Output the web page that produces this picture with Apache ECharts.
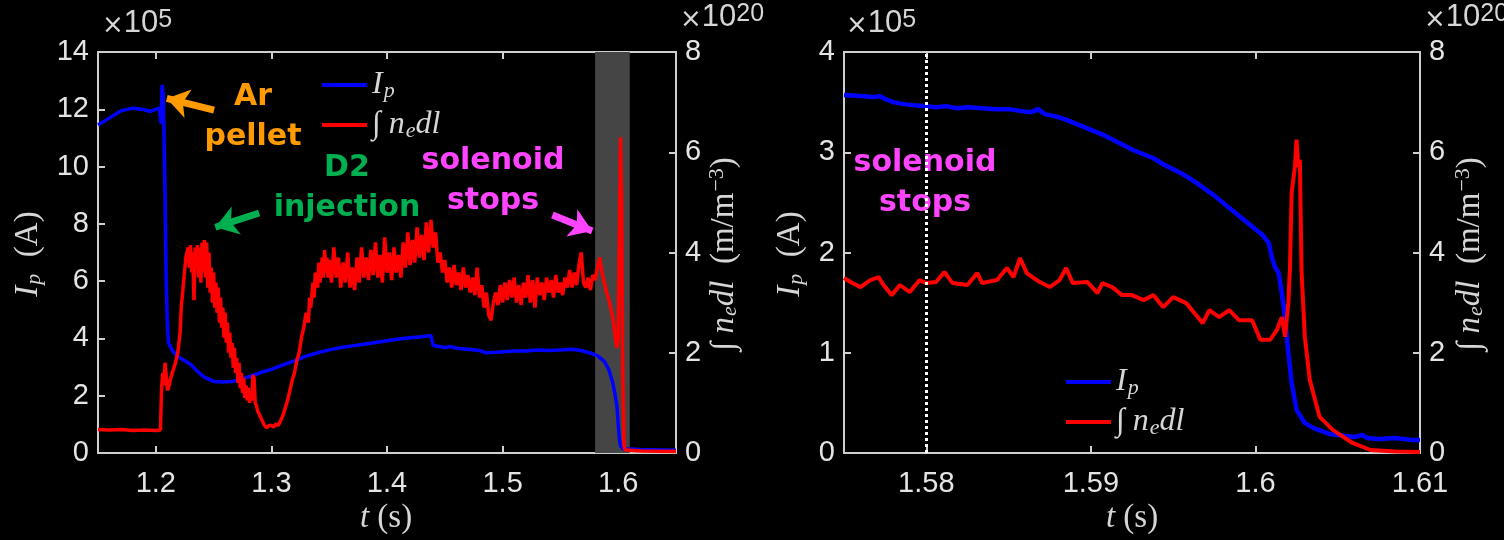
<!DOCTYPE html>
<html>
<head>
<meta charset="utf-8">
<script src="https://cdn.jsdelivr.net/npm/echarts@6/dist/echarts.min.js"></script>
<style>
  html, body { margin: 0; padding: 0; background: #000; }
  #chart { width: 1504px; height: 540px; }
</style>
</head>
<body>
<div id="chart"></div>
<script>
// tick positions
const tTicksLeft = [1.2, 1.3, 1.4, 1.5, 1.6]
const tTicksRight = [1.58, 1.59, 1.6, 1.61]

// shaded window (solenoid stops) and dotted marker, in seconds
const shadeWindow = [1.58, 1.61]
const solenoidStop = 1.58

// left panel: plasma current Ip (x1e5 A)
const ipLeft = [
    [1.150, 11.45], [1.160, 11.7], [1.170, 11.95], [1.180, 12.04], [1.188, 12.0], [1.195, 11.93],
    [1.200, 12.0], [1.203, 12.05], [1.2045, 11.5], [1.2055, 12.85], [1.2065, 12.5], [1.208, 9.0],
    [1.209, 6.0], [1.210, 4.5], [1.211, 3.85], [1.214, 3.6], [1.218, 3.4], [1.224, 3.25],
    [1.230, 3.1], [1.236, 2.85], [1.242, 2.65], [1.250, 2.5], [1.258, 2.48], [1.266, 2.5],
    [1.274, 2.58], [1.282, 2.68], [1.290, 2.8], [1.300, 2.92], [1.310, 3.08], [1.320, 3.22],
    [1.330, 3.38], [1.340, 3.5], [1.350, 3.6], [1.360, 3.68], [1.370, 3.74], [1.380, 3.8],
    [1.390, 3.86], [1.400, 3.92], [1.410, 3.98], [1.420, 4.02], [1.430, 4.06], [1.438, 4.1],
    [1.440, 3.75], [1.450, 3.68], [1.455, 3.72], [1.460, 3.66], [1.470, 3.62], [1.480, 3.58],
    [1.485, 3.5], [1.495, 3.52], [1.510, 3.56], [1.520, 3.56], [1.530, 3.6], [1.540, 3.58],
    [1.550, 3.6], [1.560, 3.62], [1.568, 3.58], [1.575, 3.5], [1.582, 3.4], [1.588, 3.2],
    [1.592, 2.9], [1.595, 2.5], [1.597, 2.1], [1.599, 1.6], [1.600, 1.0], [1.601, 0.5],
    [1.602, 0.25], [1.604, 0.15], [1.620, 0.12], [1.650, 0.1]
]

// left panel: line integrated density (x1e20 m^-2)
const neLeft = [
    [1.150, 0.47], [1.160, 0.46], [1.170, 0.47], [1.180, 0.45], [1.190, 0.46], [1.200, 0.45], [1.204, 0.46],
    [1.205, 1.3], [1.206, 1.6], [1.207, 1.35], [1.208, 1.8], [1.209, 1.55], [1.210, 1.25], [1.211, 1.3],
    [1.213, 1.5], [1.215, 1.65], [1.217, 1.8], [1.219, 2.0], [1.221, 2.4], [1.222, 2.9], [1.224, 3.4],
    [1.226, 3.9], [1.228, 4.1], [1.229, 3.7], [1.230, 4.15], [1.231, 3.6], [1.232, 4.0], [1.233, 3.05],
    [1.234, 4.1], [1.235, 3.7], [1.236, 4.15], [1.237, 3.5], [1.238, 4.1], [1.239, 3.4], [1.240, 4.2],
    [1.241, 3.6], [1.242, 4.25], [1.243, 3.5], [1.244, 4.2], [1.245, 3.3], [1.246, 4.0], [1.247, 3.2],
    [1.248, 3.7], [1.249, 3.0], [1.250, 3.6], [1.251, 2.9], [1.252, 3.4], [1.253, 2.8], [1.254, 3.3],
    [1.255, 2.6], [1.256, 3.1], [1.257, 2.5], [1.258, 2.9], [1.259, 2.3], [1.260, 2.8], [1.261, 2.2],
    [1.262, 2.6], [1.263, 2.0], [1.264, 2.4], [1.265, 1.9], [1.266, 2.2], [1.267, 1.7], [1.268, 2.1],
    [1.269, 1.6], [1.270, 1.9], [1.271, 1.4], [1.272, 1.8], [1.273, 1.3], [1.274, 1.6], [1.275, 1.2],
    [1.276, 1.5], [1.277, 1.1], [1.278, 1.35], [1.279, 1.05], [1.280, 1.3], [1.281, 1.0], [1.282, 1.2],
    [1.283, 1.05], [1.284, 1.55], [1.285, 1.5], [1.286, 1.0], [1.287, 0.95], [1.288, 0.85], [1.290, 0.75],
    [1.292, 0.65], [1.294, 0.55], [1.296, 0.5], [1.298, 0.55], [1.300, 0.55], [1.302, 0.52], [1.304, 0.58],
    [1.306, 0.55], [1.308, 0.65], [1.310, 0.75], [1.312, 0.9], [1.314, 1.05], [1.316, 1.25], [1.318, 1.45],
    [1.320, 1.6], [1.322, 1.85], [1.324, 2.0], [1.326, 2.3], [1.328, 2.5], [1.330, 2.8], [1.332, 2.6],
    [1.333, 3.1], [1.334, 2.9], [1.336, 3.4], [1.337, 3.1], [1.338, 3.6], [1.340, 3.3], [1.341, 3.8],
    [1.342, 3.4], [1.344, 3.9], [1.345, 3.5], [1.346, 4.05], [1.347, 3.6], [1.348, 3.9], [1.349, 3.5],
    [1.350, 3.85], [1.352, 3.4], [1.354, 4.1], [1.356, 3.5], [1.358, 3.9], [1.360, 3.3], [1.362, 3.8],
    [1.364, 3.4], [1.366, 4.0], [1.368, 3.3], [1.370, 3.7], [1.372, 3.25], [1.374, 3.9], [1.376, 3.4],
    [1.378, 4.1], [1.380, 3.5], [1.382, 3.9], [1.384, 3.45], [1.386, 4.05], [1.388, 3.55], [1.390, 4.2],
    [1.392, 3.5], [1.394, 3.95], [1.396, 3.4], [1.398, 4.3], [1.400, 3.6], [1.402, 4.0], [1.404, 3.45],
    [1.406, 4.1], [1.408, 3.6], [1.410, 3.95], [1.412, 3.5], [1.414, 4.2], [1.416, 3.7], [1.418, 4.4],
    [1.420, 3.75], [1.422, 4.25], [1.424, 3.8], [1.426, 4.5], [1.428, 3.9], [1.430, 4.35], [1.432, 3.85],
    [1.434, 4.6], [1.436, 4.0], [1.438, 4.65], [1.440, 4.1], [1.442, 4.4], [1.444, 3.8], [1.446, 4.0],
    [1.448, 3.6], [1.450, 3.85], [1.452, 3.4], [1.454, 3.7], [1.456, 3.3], [1.458, 3.75], [1.460, 3.35],
    [1.462, 3.6], [1.464, 3.25], [1.466, 3.7], [1.468, 3.3], [1.470, 3.55], [1.472, 3.2], [1.474, 3.5],
    [1.476, 3.15], [1.478, 3.7], [1.480, 3.1], [1.482, 3.35], [1.484, 2.9], [1.486, 3.2], [1.488, 2.75],
    [1.490, 2.65], [1.492, 3.0], [1.494, 3.2], [1.496, 2.95], [1.498, 3.35], [1.500, 3.0], [1.502, 3.4],
    [1.504, 3.05], [1.506, 3.45], [1.508, 3.1], [1.510, 3.5], [1.512, 3.0], [1.514, 3.35], [1.516, 2.95],
    [1.518, 3.4], [1.520, 3.1], [1.522, 3.55], [1.524, 3.0], [1.526, 3.45], [1.528, 2.9], [1.530, 3.5],
    [1.532, 3.15], [1.534, 3.4], [1.536, 3.05], [1.538, 3.5], [1.540, 3.2], [1.542, 3.45], [1.544, 3.1],
    [1.546, 3.55], [1.548, 3.2], [1.550, 3.4], [1.552, 3.15], [1.554, 3.5], [1.556, 3.3], [1.558, 3.65],
    [1.560, 3.3], [1.562, 3.6], [1.564, 3.35], [1.566, 3.75], [1.568, 4.0], [1.570, 3.4], [1.572, 3.3],
    [1.574, 3.5], [1.576, 3.25], [1.578, 3.55], [1.580, 3.45], [1.582, 3.7], [1.584, 3.9], [1.586, 3.6],
    [1.588, 3.4], [1.590, 3.2], [1.592, 3.05], [1.594, 2.85], [1.596, 2.6], [1.597, 2.4], [1.598, 2.2],
    [1.599, 2.1], [1.600, 2.3], [1.601, 4.5], [1.602, 6.3], [1.603, 5.0], [1.604, 1.5], [1.605, 0.15],
    [1.606, 0.06], [1.620, 0.04], [1.650, 0.03]
]

// right panel (zoom on the quench): Ip (x1e5 A)
const ipRight = [
    [1.5750, 3.57], [1.5760, 3.56], [1.5768, 3.55], [1.5772, 3.56], [1.5775, 3.53], [1.5780, 3.5],
    [1.5786, 3.48], [1.5792, 3.47], [1.5800, 3.46], [1.5806, 3.45], [1.5812, 3.46], [1.5818, 3.44],
    [1.5826, 3.45], [1.5834, 3.44], [1.5842, 3.43], [1.5850, 3.43], [1.5858, 3.41], [1.5864, 3.4],
    [1.5868, 3.43], [1.5872, 3.38], [1.5878, 3.36], [1.5884, 3.33], [1.5890, 3.29], [1.5896, 3.25],
    [1.5902, 3.21], [1.5908, 3.17], [1.5914, 3.12], [1.5920, 3.07], [1.5926, 3.02], [1.5932, 2.98],
    [1.5938, 2.94], [1.5944, 2.88], [1.5950, 2.83], [1.5956, 2.78], [1.5962, 2.72], [1.5968, 2.65],
    [1.5974, 2.58], [1.5980, 2.5], [1.5986, 2.42], [1.5992, 2.34], [1.5998, 2.26], [1.6004, 2.18],
    [1.6008, 2.1], [1.6010, 1.95], [1.6012, 1.85], [1.6014, 1.8], [1.6016, 1.6], [1.6018, 1.35],
    [1.6020, 1.0], [1.6022, 0.7], [1.6025, 0.43], [1.6030, 0.3], [1.6035, 0.25], [1.6040, 0.22],
    [1.6045, 0.19], [1.6050, 0.18], [1.6055, 0.17], [1.6060, 0.16], [1.6065, 0.18], [1.6068, 0.15],
    [1.6075, 0.14], [1.6085, 0.15], [1.6095, 0.13], [1.6100, 0.13]
]

// right panel: line integrated density (x1e20)
const neRight = [
    [1.5750, 3.49], [1.5755, 3.39], [1.5760, 3.31], [1.5766, 3.45], [1.5771, 3.51], [1.5774, 3.35],
    [1.5779, 3.15], [1.5784, 3.35], [1.5790, 3.21], [1.5796, 3.45], [1.5800, 3.39], [1.5806, 3.41],
    [1.5811, 3.61], [1.5816, 3.39], [1.5825, 3.35], [1.5831, 3.59], [1.5834, 3.39], [1.5843, 3.45],
    [1.5849, 3.69], [1.5853, 3.51], [1.5857, 3.89], [1.5861, 3.59], [1.5869, 3.41], [1.5875, 3.31],
    [1.5881, 3.45], [1.5885, 3.69], [1.5889, 3.39], [1.5898, 3.41], [1.5904, 3.19], [1.5907, 3.39],
    [1.5913, 3.31], [1.5919, 3.15], [1.5925, 3.15], [1.5932, 3.05], [1.5938, 3.15], [1.5944, 2.91],
    [1.5950, 3.11], [1.5958, 2.99], [1.5968, 2.59], [1.5972, 2.85], [1.5978, 2.71], [1.5984, 2.85],
    [1.5990, 2.65], [1.5998, 2.65], [1.6003, 2.26], [1.6009, 2.26], [1.6013, 2.45], [1.6016, 2.71],
    [1.6018, 2.32], [1.6020, 2.99], [1.6021, 3.71], [1.6022, 5.19], [1.6024, 5.71], [1.6025, 6.25],
    [1.6026, 5.71], [1.6027, 5.85], [1.6028, 3.65], [1.6030, 2.32], [1.6033, 1.46], [1.6039, 0.72],
    [1.6047, 0.46], [1.6059, 0.2], [1.6070, 0.06], [1.6085, 0.03], [1.6100, 0.02]
]

// annotation arrows on the left panel, [t, Ip] tail -> head
const arrows = [
    { from: [1.2504, 11.97], to: [1.2095, 12.38], color: '#ff9a00' },
    { from: [1.2894, 8.38], to: [1.2515, 7.88], color: '#00b050' },
    { from: [1.5431, 8.31], to: [1.5775, 7.75], color: '#ff44ff' }
]

const axisColor = '#cfcfcf'
const labelColor = '#e4e4e4'
const textGrey = '#d6d6d6'
const serif = 'Liberation Serif'

// rich text styles for the math labels; key is 'color' for legends, 'fill' for graphic texts
function mathRich(key, size) {
    const sub = Math.round(size * 0.68)
    const shift = Math.round(size * 0.5)
    const st = (o, italic) => Object.assign({ fontFamily: serif, fontStyle: italic ? 'italic' : 'normal', [key]: textGrey }, o)
    return {
        i: st({ fontSize: size, verticalAlign: 'middle', lineHeight: size + 2 }, true),
        r: st({ fontSize: size, verticalAlign: 'middle', lineHeight: size + 2 }, false),
        s: st({ fontSize: sub, verticalAlign: 'bottom', lineHeight: sub, padding: [shift, 0, 0, 1] }, true),
        u: st({ fontSize: sub, verticalAlign: 'top', lineHeight: sub, padding: [0, 0, shift, 1] }, false)
    }
}

function xAxisFor(grid, min, max, ticks, top) {
    return {
        type: 'value', gridIndex: grid, min: min, max: max, position: top ? 'top' : 'bottom',
        axisLine: { show: true, onZero: false, lineStyle: { color: axisColor, width: 2 } },
        axisTick: { show: true, inside: true, length: 7, customValues: ticks, lineStyle: { color: axisColor, width: 2 } },
        axisLabel: { show: !top, customValues: ticks, margin: 16, color: labelColor, fontFamily: 'Liberation Sans', fontSize: 29 },
        splitLine: { show: false }
    }
}

function yAxisFor(grid, max, interval, right) {
    return {
        type: 'value', gridIndex: grid, min: 0, max: max, interval: interval, position: right ? 'right' : 'left',
        axisLine: { show: true, lineStyle: { color: axisColor, width: 2 } },
        axisTick: { show: true, inside: true, length: 7, lineStyle: { color: axisColor, width: 2 } },
        axisLabel: { margin: 9, color: labelColor, fontFamily: 'Liberation Sans', fontSize: 29 },
        splitLine: { show: false }
    }
}

function legendAt(left, top) {
    return {
        orient: 'vertical', left: left, top: top, padding: 0, icon: 'rect', itemWidth: 45, itemHeight: 4, itemGap: 2,
        data: ['Ip', 'ne'],
        formatter: name => name === 'Ip' ? '{i|I}{s|p}' : '{r|∫ }{i|n}{s|e}{i|dl}',
        textStyle: { rich: mathRich('color', 32) }
    }
}

function note(x, y, text, color) {
    return {
        type: 'text', x: x, y: y,
        style: { text: text, fill: color, font: 'bold 30px "DejaVu Sans"', align: 'center', verticalAlign: 'middle', lineHeight: 40 }
    }
}

function mathText(x, y, text, rotate) {
    return {
        type: 'text', x: x, y: y, rotation: rotate ? Math.PI / 2 : 0,
        style: { text: text, rich: mathRich('fill', 33), align: 'center', verticalAlign: 'middle' }
    }
}

function exponent(x, y, power) {
    return {
        type: 'text', x: x, y: y,
        style: {
            text: '{x|×}{n|10}{p|' + power + '}',
            rich: {
                x: { fontFamily: 'DejaVu Sans', fontSize: 26, fill: textGrey, verticalAlign: 'bottom', lineHeight: 28, padding: [16, 0, 0, 0] },
                n: { fontFamily: 'Liberation Sans', fontSize: 31, fill: textGrey, verticalAlign: 'bottom', lineHeight: 31, padding: [13, 0, 0, 0] },
                p: { fontFamily: 'Liberation Sans', fontSize: 25, fill: textGrey, verticalAlign: 'top', lineHeight: 25 }
            }
        }
    }
}

const chart = echarts.init(document.getElementById('chart'), null, { renderer: 'canvas' })

const option = {
    backgroundColor: '#000',
    animation: false,
    grid: [
        { left: 98, top: 52, width: 578, height: 401 },
        { left: 844, top: 52, width: 576, height: 401 }
    ],
    xAxis: [
        xAxisFor(0, 1.15, 1.65, tTicksLeft, false),
        xAxisFor(0, 1.15, 1.65, tTicksLeft, true),
        xAxisFor(1, 1.575, 1.61, tTicksRight, false),
        xAxisFor(1, 1.575, 1.61, tTicksRight, true)
    ],
    yAxis: [
        yAxisFor(0, 14, 2, false),
        yAxisFor(0, 8, 2, true),
        yAxisFor(1, 4, 1, false),
        yAxisFor(1, 8, 2, true)
    ],
    legend: [legendAt(322, 64), legendAt(1066, 361)],
    series: [
        {
            name: 'Ip', type: 'line', xAxisIndex: 0, yAxisIndex: 0, data: ipLeft,
            showSymbol: false, color: '#0000ff', lineStyle: { width: 3.5 }, z: 3,
            markArea: {
                silent: true, itemStyle: { color: '#454545' },
                data: [[{ xAxis: shadeWindow[0] }, { xAxis: shadeWindow[1] }]]
            },
            markLine: {
                silent: true, symbol: ['none', 'arrow'], symbolSize: 22, label: { show: false },
                data: arrows.map(a => [
                    { coord: a.from, lineStyle: { color: a.color, width: 7, type: 'solid' }, itemStyle: { color: a.color } },
                    { coord: a.to }
                ])
            }
        },
        {
            name: 'ne', type: 'line', xAxisIndex: 0, yAxisIndex: 1, data: neLeft,
            showSymbol: false, color: '#ff0000', lineStyle: { width: 3.5 }, z: 4
        },
        {
            name: 'Ip', type: 'line', xAxisIndex: 2, yAxisIndex: 2, data: ipRight,
            showSymbol: false, color: '#0000ff', lineStyle: { width: 4.5 }, z: 3,
            markLine: {
                silent: true, symbol: 'none', label: { show: false },
                lineStyle: { color: '#ffffff', width: 3, type: [3, 3] },
                data: [{ xAxis: solenoidStop }]
            }
        },
        {
            name: 'ne', type: 'line', xAxisIndex: 2, yAxisIndex: 3, data: neRight,
            showSymbol: false, color: '#ff0000', lineStyle: { width: 4 }, z: 4
        }
    ],
    graphic: [
        note(253, 117, 'Ar\npellet', '#ff9a00'),
        note(347, 188, 'D2\ninjection', '#00b050'),
        note(493, 181, 'solenoid\nstops', '#ff44ff'),
        note(925, 183, 'solenoid\nstops', '#ff44ff'),
        mathText(28, 254, '{i|I}{s|p}{r|  (A)}', true),
        mathText(724, 254, '{r|∫ }{i|n}{s|e}{i|dl}{r|  (m/m}{u|−3}{r|)}', true),
        mathText(790, 254, '{i|I}{s|p}{r|  (A)}', true),
        mathText(1470, 254, '{r|∫ }{i|n}{s|e}{i|dl}{r|  (m/m}{u|−3}{r|)}', true),
        mathText(386, 518, '{i|t}{r| (s)}', false),
        mathText(1132, 518, '{i|t}{r| (s)}', false),
        exponent(102, 8, '5'),
        exponent(680, 2, '20'),
        exponent(846, 8, '5'),
        exponent(1424, 2, '20')
    ]
}

chart.setOption(option)
window.addEventListener('resize', () => chart.resize())
</script>
</body>
</html>
